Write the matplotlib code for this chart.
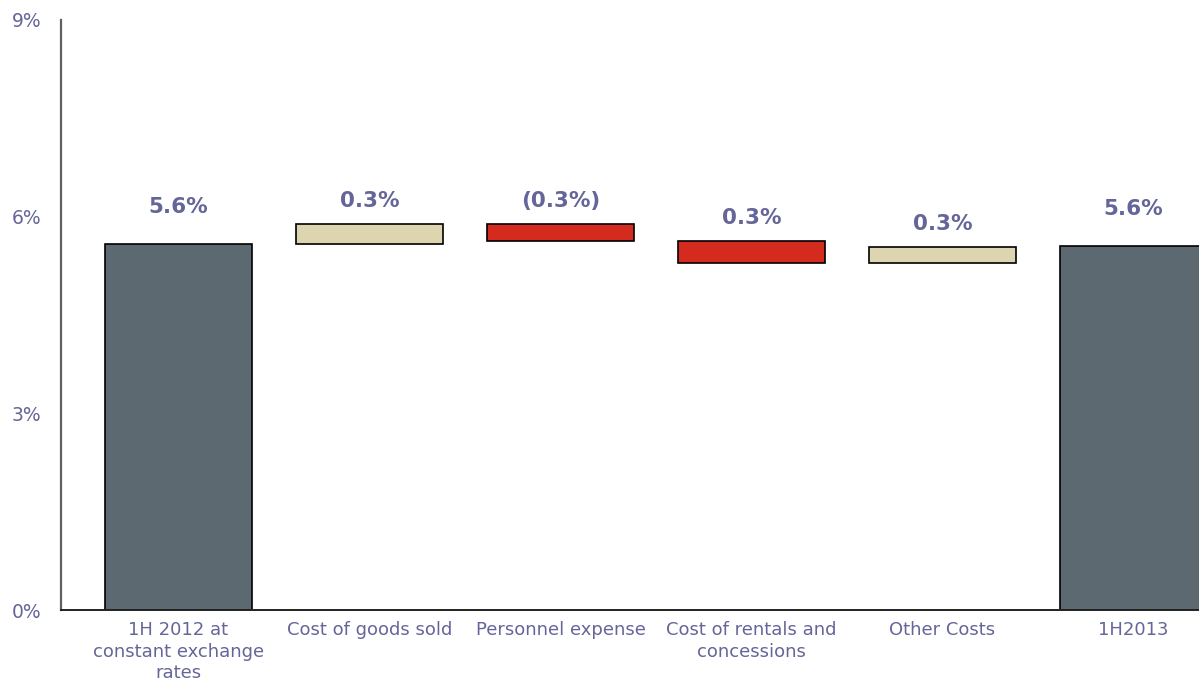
import matplotlib.pyplot as plt
import numpy as np

categories = ["1H 2012 at\nconstant exchange\nrates", "Cost of goods sold", "Personnel expense",
              "Cost of rentals and\nconcessions", "Other Costs", "1H2013"]
start_value = 5.58
deltas = [0.31, -0.26, -0.34, 0.25]
end_value = 5.56
value_labels = ["5.6%", "0.3%", "(0.3%)", "0.3%", "0.3%", "5.6%"]

total_color = "#5d6970"
up_color = "#ddd4b0"
down_color = "#d52b1e"
text_color = "#65659a"

# waterfall: floating bars between running totals
bottoms = [0]
heights = [start_value]
colors = [total_color]
level = start_value
for d in deltas:
    bottoms.append(min(level, level + d))
    heights.append(abs(d))
    colors.append(up_color if d > 0 else down_color)
    level += d
bottoms.append(0)
heights.append(end_value)
colors.append(total_color)

fig = plt.figure(figsize=(11.99, 6.84), dpi=100)
ax = fig.add_axes([0.0509, 0.108, 0.9491, 0.8628])

x = np.arange(len(categories))
ax.bar(x, heights, bottom=bottoms, width=0.77, color=colors,
       edgecolor="black", linewidth=1.2, zorder=2)

for i in range(len(categories)):
    top = bottoms[i] + heights[i]
    off = 37 if i in (0, len(categories) - 1) else 23
    ax.annotate(value_labels[i], (x[i], top), xytext=(0, off), textcoords="offset pixels",
                ha="center", va="center", fontsize=15.5, fontweight="bold", color=text_color)

ax.set_xlim(-0.615, 5.343)
ax.set_ylim(0, 9)
ax.set_yticks([0, 3, 6, 9])
ax.set_yticklabels(["0%", "3%", "6%", "9%"])
ax.set_xticks(x)
ax.set_xticklabels(categories, linespacing=1.25)

ax.tick_params(axis="y", length=0, pad=14, labelsize=13.5, labelcolor=text_color)
ax.tick_params(axis="x", length=0, pad=8, labelsize=13, labelcolor=text_color)

ax.spines["top"].set_visible(False)
ax.spines["right"].set_visible(False)
ax.spines["left"].set_color("#606060")
ax.spines["left"].set_linewidth(1.6)
ax.spines["bottom"].set_color("#222222")
ax.spines["bottom"].set_linewidth(1.4)

fig.savefig("out.png", dpi=100)
